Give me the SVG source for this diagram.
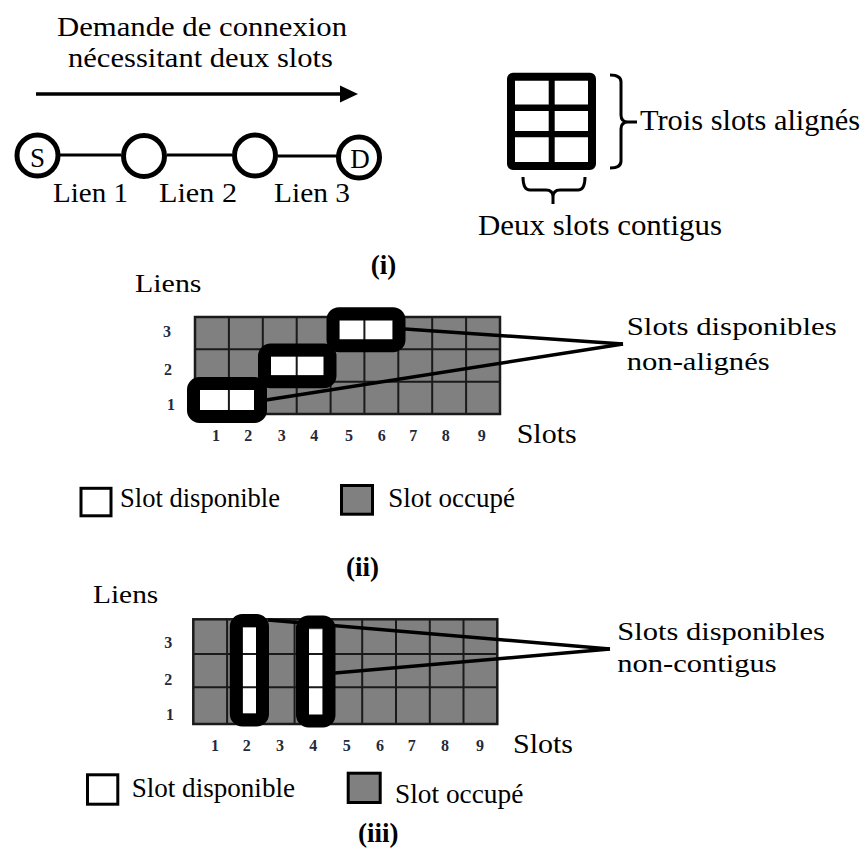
<svg xmlns="http://www.w3.org/2000/svg" width="867" height="860" viewBox="0 0 867 860">
<style>
.t{font-family:"Liberation Serif",serif;fill:#000}
.b{font-weight:bold}
.d{font-family:"Liberation Serif",serif;font-weight:bold;font-size:16px;fill:#1f2a3a;text-anchor:middle}
.node{fill:#fff;stroke:#000;stroke-width:5}
.ln{stroke:#000;stroke-width:3;fill:none}
.occ{fill:#808080}
.gl{stroke:#1a1a1a;stroke-width:2;fill:none}
.hl{fill:none;stroke:#000;stroke-width:13}
.conn{stroke:#000;stroke-width:3.5;fill:none}
</style>
<rect width="867" height="860" fill="#fff"/>

<!-- (i) top-left -->
<g id="request">
<text class="t" x="57" y="36" font-size="27" textLength="290" lengthAdjust="spacingAndGlyphs">Demande de connexion</text>
<text class="t" x="68" y="67" font-size="27" textLength="265" lengthAdjust="spacingAndGlyphs">nécessitant deux slots</text>
<line x1="36" y1="94" x2="342" y2="94" stroke="#000" stroke-width="3.5"/>
<polygon points="340,85.5 358,94 340,102.5" fill="#000"/>
</g>

<g id="links">
<text class="t" x="53" y="201.5" font-size="28" textLength="75" lengthAdjust="spacingAndGlyphs">Lien 1</text>
<text class="t" x="159" y="201.5" font-size="28" textLength="78" lengthAdjust="spacingAndGlyphs">Lien 2</text>
<text class="t" x="274" y="201.5" font-size="28" textLength="76" lengthAdjust="spacingAndGlyphs">Lien 3</text>
</g>

<!-- (i) top-right icon -->
<g id="slotIcon">
<rect x="511" y="76.7" width="81" height="89.3" rx="2" fill="#fff" stroke="#000" stroke-width="8"/>
<line x1="551.7" y1="77" x2="551.7" y2="166" stroke="#000" stroke-width="6"/>
<line x1="511" y1="107.7" x2="592" y2="107.7" stroke="#000" stroke-width="6.5"/>
<line x1="511" y1="134.2" x2="592" y2="134.2" stroke="#000" stroke-width="6.3"/>
<path class="ln" d="M610,75 Q621,75 621,82 L621,115 Q621,122 628,122 L637,122 M628,122 Q621,122 621,129 L621,161 Q621,168 610,168"/>
<text class="t" x="640" y="130" font-size="29" textLength="220" lengthAdjust="spacingAndGlyphs">Trois slots alignés</text>
<path class="ln" d="M523,177 Q523,190 530,190 L546,190 Q553,190 553,197 L553,204 M553,197 Q553,190 560,190 L578,190 Q585,190 585,177"/>
<text class="t" x="478" y="235" font-size="29" textLength="244" lengthAdjust="spacingAndGlyphs">Deux slots contigus</text>
</g>

<text class="t b" x="383.5" y="274" font-size="27" text-anchor="middle">(i)</text>

<!-- (ii) -->
<g id="gridII">
<text class="t" x="135" y="291.5" font-size="26" textLength="66.5" lengthAdjust="spacingAndGlyphs">Liens</text>
<rect class="occ" x="195" y="317" width="305" height="97"/>
<rect x="200" y="390" width="55" height="20" fill="#fff"/>
<rect x="270" y="356.7" width="54" height="18.3" fill="#fff"/>
<rect x="339.3" y="320.7" width="53.4" height="19.3" fill="#fff"/>
<path class="gl" d="M228.9,317V414M262.8,317V414M296.7,317V414M330.6,317V414M364.4,317V414M398.3,317V414M432.2,317V414M466.1,317V414M195,349.3H500M195,381.7H500"/>
<rect x="195" y="317" width="305" height="97" fill="none" stroke="#1a1a1a" stroke-width="2.5"/>
<rect class="hl" x="193.5" y="383.5" width="67" height="33" rx="6"/>
<rect class="hl" x="264.5" y="350" width="65.5" height="31.7" rx="6"/>
<rect class="hl" x="333" y="313.7" width="66" height="32" rx="6"/>
<text class="d" x="167" y="337">3</text>
<text class="d" x="168" y="375">2</text>
<text class="d" x="171" y="410">1</text>
<text class="d" x="216" y="441">1</text>
<text class="d" x="248.3" y="441">2</text>
<text class="d" x="281.7" y="441">3</text>
<text class="d" x="314.3" y="441">4</text>
<text class="d" x="349" y="441">5</text>
<text class="d" x="381.7" y="441">6</text>
<text class="d" x="413.3" y="441">7</text>
<text class="d" x="445.7" y="441">8</text>
<text class="d" x="481.7" y="441">9</text>
<text class="t" x="516.7" y="443" font-size="28" textLength="60" lengthAdjust="spacingAndGlyphs">Slots</text>
</g>
<g id="labelII">
<text class="t" x="626.7" y="335" font-size="26" textLength="210" lengthAdjust="spacingAndGlyphs">Slots disponibles</text>
<text class="t" x="626.7" y="370" font-size="26" textLength="143" lengthAdjust="spacingAndGlyphs">non-alignés</text>
</g>
<g id="legendII">
<rect x="81" y="488.3" width="30" height="27.5" fill="#fff" stroke="#000" stroke-width="3"/>
<text class="t" x="120" y="506.7" font-size="27" textLength="160" lengthAdjust="spacingAndGlyphs">Slot disponible</text>
<rect class="occ" x="341.5" y="485.5" width="31" height="28.7" stroke="#000" stroke-width="3"/>
<text class="t" x="388.3" y="506.7" font-size="27" textLength="126.7" lengthAdjust="spacingAndGlyphs">Slot occupé</text>
</g>
<text class="t b" x="362.5" y="576" font-size="27" text-anchor="middle">(ii)</text>

<!-- (iii) -->
<g id="gridIII">
<text class="t" x="93" y="603" font-size="26" textLength="65.3" lengthAdjust="spacingAndGlyphs">Liens</text>
<rect class="occ" x="193.3" y="619.3" width="304" height="104.7"/>
<rect x="242.7" y="627.7" width="14" height="85.6" fill="#fff"/>
<rect x="308.3" y="629.3" width="14.4" height="85.7" fill="#fff"/>
<path class="gl" d="M227.1,619.3V724M260.9,619.3V724M294.6,619.3V724M328.4,619.3V724M362.2,619.3V724M396,619.3V724M429.8,619.3V724M463.5,619.3V724M193.3,654H497.3M193.3,687.3H497.3"/>
<rect x="193.3" y="619.3" width="304" height="104.7" fill="none" stroke="#1a1a1a" stroke-width="2.5"/>
<rect class="hl" x="236.3" y="620.5" width="26.2" height="99.5" rx="6"/>
<rect class="hl" x="302.5" y="622" width="26.5" height="99" rx="6"/>
<text class="d" x="168.3" y="648.3">3</text>
<text class="d" x="168.3" y="685">2</text>
<text class="d" x="170" y="720">1</text>
<text class="d" x="215" y="751">1</text>
<text class="d" x="246.7" y="751">2</text>
<text class="d" x="280" y="751">3</text>
<text class="d" x="313.3" y="751">4</text>
<text class="d" x="346.7" y="751">5</text>
<text class="d" x="380" y="751">6</text>
<text class="d" x="411.7" y="751">7</text>
<text class="d" x="445" y="751">8</text>
<text class="d" x="480" y="751">9</text>
<text class="t" x="513" y="753" font-size="28" textLength="60" lengthAdjust="spacingAndGlyphs">Slots</text>
</g>
<g id="labelIII">
<text class="t" x="617.3" y="640" font-size="26" textLength="207.7" lengthAdjust="spacingAndGlyphs">Slots disponibles</text>
<text class="t" x="617.3" y="671.7" font-size="26" textLength="159.4" lengthAdjust="spacingAndGlyphs">non-contigus</text>
</g>
<g id="legendIII">
<rect x="87.5" y="774.8" width="30.3" height="29.4" fill="#fff" stroke="#000" stroke-width="3"/>
<text class="t" x="131.7" y="796.7" font-size="27" textLength="163.3" lengthAdjust="spacingAndGlyphs">Slot disponible</text>
<rect class="occ" x="348.2" y="773.2" width="32" height="29.3" stroke="#000" stroke-width="3"/>
<text class="t" x="395" y="803.3" font-size="27" textLength="128.3" lengthAdjust="spacingAndGlyphs">Slot occupé</text>
</g>
<text class="t b" x="378.3" y="841.7" font-size="27" text-anchor="middle">(iii)</text>

<g id="connectors">
<line class="ln" x1="60" y1="155" x2="121" y2="155"/>
<line class="ln" x1="167" y1="155" x2="232" y2="155"/>
<line class="ln" x1="278" y1="156" x2="337" y2="156"/>
<line class="conn" x1="405" y1="329" x2="623" y2="344"/>
<line class="conn" x1="266" y1="400" x2="623" y2="344"/>
<line class="conn" x1="268" y1="620" x2="610" y2="649"/>
<line class="conn" x1="335" y1="673" x2="610" y2="649"/>
</g>

<g id="nodeS"><circle class="node" cx="37.5" cy="155.5" r="20.5"/><text class="t" x="37.5" y="167" font-size="27" text-anchor="middle">S</text></g>
<g id="node2"><circle class="node" cx="144" cy="156" r="20.5"/></g>
<g id="node3"><circle class="node" cx="255" cy="155.5" r="20.5"/></g>
<g id="nodeD"><circle class="node" cx="359" cy="157.5" r="20.5"/><text class="t" x="360" y="168" font-size="27" text-anchor="middle">D</text></g>
</svg>
